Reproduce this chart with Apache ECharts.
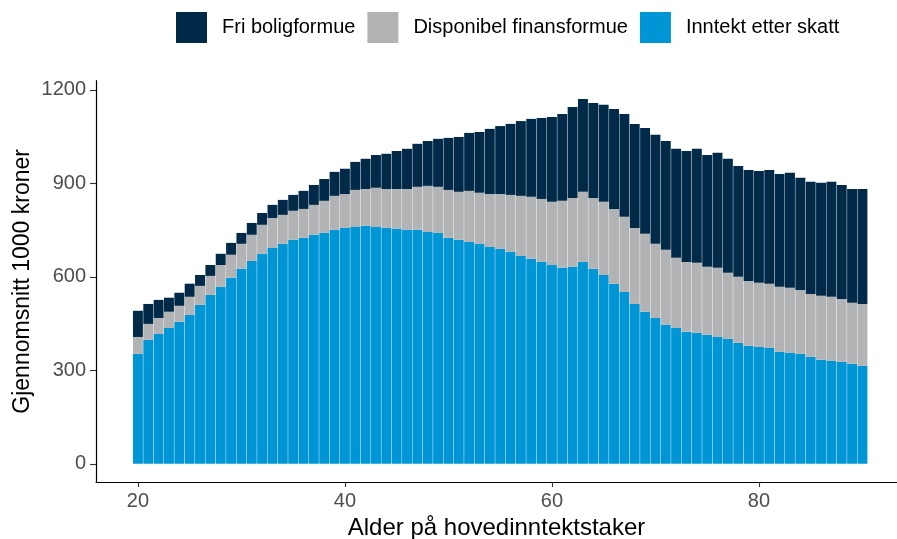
<!DOCTYPE html>
<html>
<head>
<meta charset="utf-8">
<script src="https://cdn.jsdelivr.net/npm/echarts@6/dist/echarts.min.js"></script>
<style>html,body{margin:0;padding:0;background:#fff}#c{width:897px;height:539px}</style>
</head>
<body>
<div id="c"></div>
<script>
const ages = [20,21,22,23,24,25,26,27,28,29,30,31,32,33,34,35,36,37,38,39,40,41,42,43,44,45,46,47,48,49,50,51,52,53,54,55,56,57,58,59,60,61,62,63,64,65,66,67,68,69,70,71,72,73,74,75,76,77,78,79,80,81,82,83,84,85,86,87,88,89,90];
const inntekt = [353,398,417,436,456,478,510,542,568,597,626,651,674,693,706,719,725,735,741,751,757,760,764,760,757,754,751,751,744,741,725,719,712,706,696,690,680,667,658,648,638,629,632,648,626,606,578,552,513,488,468,446,436,424,420,414,407,401,388,379,375,372,359,356,353,343,334,330,327,321,314];
const finans = [54,51,51,52,51,58,61,61,70,74,80,84,93,96,93,93,93,96,103,109,109,119,118,126,125,128,131,138,148,148,154,154,164,164,170,176,183,193,199,202,203,215,221,225,227,235,240,241,244,250,238,241,225,224,225,218,222,212,212,208,206,206,209,209,205,202,205,206,202,196,199];
const bolig = [84,64,58,45,42,42,35,35,36,38,35,38,38,42,48,51,58,64,70,77,81,90,97,105,113,122,129,138,144,154,167,176,186,195,209,218,228,240,250,260,272,279,292,298,305,311,321,330,334,340,350,349,350,356,366,359,369,366,356,356,359,365,362,369,360,360,363,369,366,365,369];
const yTicks = [0,300,600,900,1200];
const xTicks = [20,40,60,80];
const names = ['Fri boligformue','Disponibel finansformue','Inntekt etter skatt'];

const font = 'Liberation Sans, Arial, Helvetica, sans-serif';
// plot panel geometry (ggplot-like expansion)
const xMin = 15.95, xMax = 93.34, yMin = -58.55, yMax = 1229.6;
const panelLeft = 96, panelRight = 0, panelTop = 80.7, panelBottom = 57;
const pxPerYear = (897 - panelLeft - panelRight) / (xMax - xMin);
const barsLeft = panelLeft + (ages[0] - 0.5 - xMin) * pxPerYear;
const barsWidth = ages.length * pxPerYear;

const chart = echarts.init(document.getElementById('c'), null, {renderer:'canvas'});
chart.setOption({
  animation:false,
  textStyle:{fontFamily:font},
  legend:{
    data:names, left:176, top:12, padding:0, itemWidth:31, itemHeight:31, itemGap:12, icon:'rect',
    textStyle:{fontSize:20, color:'#000', fontFamily:font, padding:[0,0,0,10]}
  },
  grid:[
    {left:panelLeft, right:panelRight, top:panelTop, bottom:panelBottom, containLabel:false, outerBoundsMode:'none'},
    {left:barsLeft, width:barsWidth, top:panelTop, bottom:panelBottom, containLabel:false, outerBoundsMode:'none'}
  ],
  xAxis:[{
    gridIndex:0, type:'value', min:xMin, max:xMax,
    name:'Alder på hovedinntektstaker', nameLocation:'middle', nameGap:32,
    nameTextStyle:{fontSize:24, color:'#000', fontFamily:font},
    axisLine:{onZero:false, lineStyle:{color:'#000', width:1.2}},
    axisTick:{customValues:xTicks, length:5, lineStyle:{color:'#333', width:1.1}},
    axisLabel:{customValues:xTicks, fontSize:20, color:'#4d4d4d', margin:9, fontFamily:font},
    splitLine:{show:false}
  },{
    gridIndex:1, type:'category', data:ages, show:false, boundaryGap:true
  }],
  yAxis:[{
    gridIndex:0, type:'value', min:yMin, max:yMax,
    name:'Gjennomsnitt 1000 kroner', nameLocation:'middle', nameGap:62, nameRotate:90, nameMoveOverlap:false,
    nameTextStyle:{fontSize:23, color:'#000', fontFamily:font},
    axisLine:{onZero:false, show:true, lineStyle:{color:'#000', width:1.2}},
    axisTick:{show:true, customValues:yTicks, length:6, lineStyle:{color:'#333', width:1.1}},
    axisLabel:{customValues:yTicks, fontSize:20, color:'#4d4d4d', margin:10, fontFamily:font, formatter:v=>String(v)},
    splitLine:{show:false}
  },{
    gridIndex:1, type:'value', min:yMin, max:yMax, show:false, splitLine:{show:false}
  }],
  series:[
    {name:names[2], type:'bar', stack:'s', xAxisIndex:1, yAxisIndex:1, barCategoryGap:'4%', data:inntekt, itemStyle:{color:'#0096D6'}},
    {name:names[1], type:'bar', stack:'s', xAxisIndex:1, yAxisIndex:1, barCategoryGap:'4%', data:finans, itemStyle:{color:'#B1B3B5'}},
    {name:names[0], type:'bar', stack:'s', xAxisIndex:1, yAxisIndex:1, barCategoryGap:'4%', data:bolig, itemStyle:{color:'#002A48'}}
  ]
});
</script>
</body>
</html>
